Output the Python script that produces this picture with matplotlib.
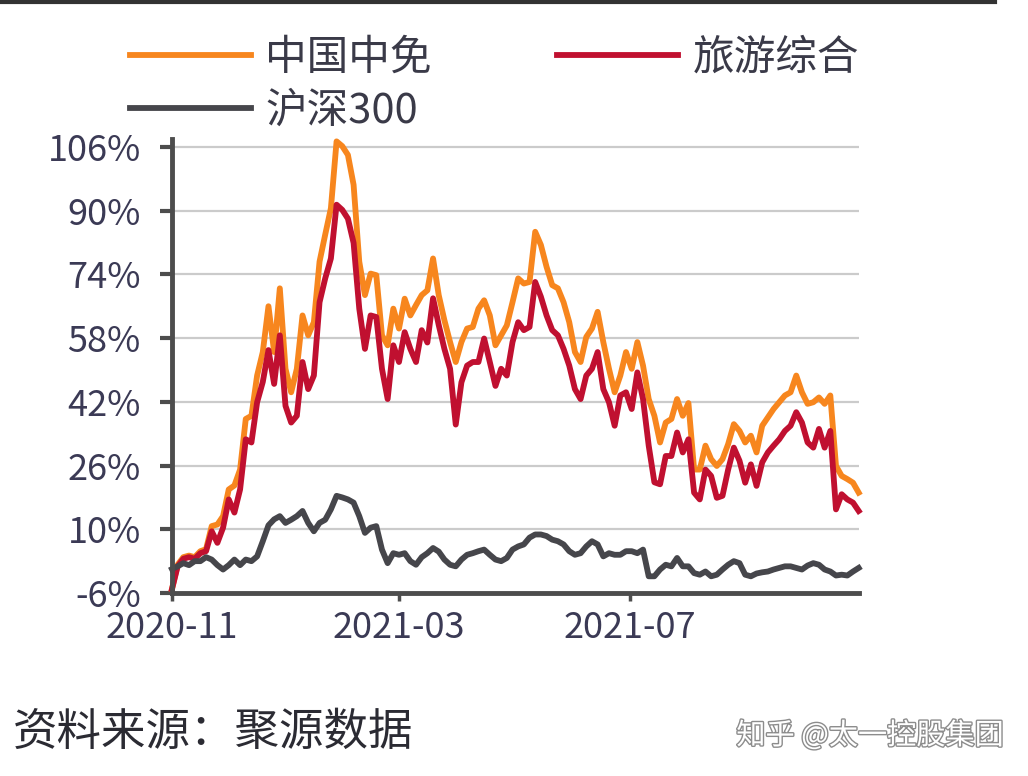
import numpy as np
import pandas as pd
import matplotlib
matplotlib.use("Agg")
import matplotlib.pyplot as plt
import matplotlib.dates as mdates
from matplotlib.lines import Line2D
from matplotlib import patheffects

plt.rcParams['font.family'] = ['Noto Sans CJK SC', 'DejaVu Sans']

# 累计涨跌幅（%），每3天取一个点，读自原图
zhongmian = [-5, 1.1, 3, 3.4, 3, 4.5, 5, 10.8, 11.2, 13.3,
             20, 21, 25, 37.7, 38.5, 48.6, 54.5, 66, 54.5, 70.5,
             50.3, 44.4, 50.3, 63.7, 58.7, 62, 77.2, 84, 90.6, 107.4,
             106.2, 104, 96.5, 77.2, 68.8, 74.2, 73.8, 58.7, 56.2, 65.4,
             60.4, 67.9, 63.7, 66.3, 68.8, 70, 78, 68.8, 62.5, 57,
             52, 57, 60.4, 60.8, 65.4, 67.5, 63.7, 56.2, 58.7, 61.2,
             67, 73, 71.7, 72.1, 84.7, 81.4, 75.9, 71.3, 70.5, 67,
             62, 54.5, 52, 58.3, 60.4, 64.6, 57, 50.3, 44.4, 48.6,
             54.5, 50.3, 57, 51.1, 42.7, 38.5, 31.8, 36.8, 37.7, 42.7,
             38.5, 41.7, 25, 25, 31, 27.6, 25.9, 27.6, 31.4, 36.4,
             34.7, 31.8, 33.5, 29.3, 36, 38.1, 40.2, 41.9, 43.6, 44.4,
             48.6, 44.4, 41.5, 41.9, 43.1, 41.5, 43.6, 25.9, 23.4, 22.6,
             21.7, 19.2]

lvyou = [-5, 0.7, 2.6, 3, 2.6, 4, 4.5, 9.5, 6.6, 10.4,
         17.5, 14.2, 20, 32.6, 31.8, 41.9, 47, 55, 46.5, 58.7,
         41, 36.8, 38.5, 52, 45.2, 48.6, 67, 73, 78, 91.5,
         90.2, 88, 81.9, 65.4, 55.3, 63.7, 63.3, 50.3, 42.7, 56.2,
         52, 59.5, 55.3, 52, 60, 56.9, 68, 61.3, 55.3, 50.3,
         36.3, 46.9, 51.1, 52, 52, 57.9, 52, 46, 50.3, 48.6,
         57, 62, 60, 60.8, 72.1, 68.4, 63.7, 60, 58.7, 55.3,
         51.1, 45.2, 42.7, 48.6, 50.3, 54.5, 45.2, 41.9, 36, 43.6,
         44.4, 40.2, 49.4, 42.7, 31, 21.8, 21.3, 28.4, 28.4, 34.3,
         29.3, 32.6, 19.2, 17.5, 25, 23.4, 17.9, 18.4, 25, 30.5,
         27.2, 21.7, 26.3, 20.9, 26.8, 29.3, 31, 32.6, 34.7, 36,
         39.4, 36.8, 31.8, 30.5, 35.2, 30.5, 34.7, 15, 18.8, 17.5,
         16.7, 14.6]

hs300 = [0, 0.7, 1.5, 1, 2, 2, 3, 2.4, 1, -0.1,
         1, 2.4, 1, 2.4, 2, 3.2, 7, 11, 12.5, 13.3,
         11.6, 12.4, 13.3, 14.6, 11.6, 9.5, 11.6, 12.4, 15, 18.4,
         18, 17.5, 16.7, 13.3, 9.1, 10.4, 10.8, 4.9, 1.5, 4,
         3.6, 4, 2, 1.1, 3, 4, 5.3, 4.4, 2.4, 1.1,
         0.7, 2.4, 3.6, 4, 4.5, 4.9, 3.6, 2.4, 2, 2.8,
         4.9, 5.7, 6.2, 7.9, 8.7, 8.7, 8.3, 7.4, 7, 6.2,
         4.5, 3.6, 4, 5.7, 7, 6.2, 3.2, 4, 3.6, 3.6,
         4.5, 4.5, 4, 4.9, -1.8, -1.8, -0.1, 1.1, 0.7, 2.8,
         0.7, 0.7, -1, -1.4, -0.6, -1.8, -1.4, -0.1, 1.1, 2,
         1.5, -1.4, -1.8, -1.1, -0.8, -0.6, -0.1, 0.3, 0.7, 0.7,
         0.3, -0.1, 0.9, 1.5, 1.1, -0.1, -0.6, -1.6, -1.4, -1.6,
         -0.6, 0.3]

dates = pd.date_range("2020-11-01", periods=len(zhongmian), freq="3D")

yticks = [-6, 10, 26, 42, 58, 74, 90, 106]
xticks = ["2020-11-01", "2021-03-01", "2021-07-01"]

c_orange = '#f7861e'
c_red = '#c01030'
c_gray = '#46464b'
c_text = '#3b3a55'

fig = plt.figure(figsize=(10.28, 7.76), dpi=100)
ax = fig.add_axes([0.1673, 0.2358, 0.668, 0.5851])

l1, = ax.plot(dates, zhongmian, color=c_orange, lw=4.2, label='中国中免', clip_on=False)
l2, = ax.plot(dates, lvyou, color=c_red, lw=4.2, label='旅游综合', clip_on=False)
l3, = ax.plot(dates, hs300, color=c_gray, lw=4.2, label='沪深300', clip_on=False)

ax.set_ylim(-6, 108)
ax.set_xlim(dates[0], dates[-1])
ax.set_yticks(yticks)
ax.set_yticklabels([f'{v}%' for v in yticks])
ax.set_xticks(pd.to_datetime(xticks))
ax.xaxis.set_major_formatter(mdates.DateFormatter('%Y-%m'))

ax.yaxis.grid(True, color='#cbcbcb', lw=1.6)
ax.set_axisbelow(True)

for s in ['top', 'right']:
    ax.spines[s].set_visible(False)
for s in ['left', 'bottom']:
    ax.spines[s].set_color('#4d4d4d')
    ax.spines[s].set_linewidth(3.5)

ax.tick_params(axis='y', length=8.5, width=3, color='#4d4d4d', pad=14,
               labelsize=26, labelcolor=c_text)
ax.tick_params(axis='x', length=6, width=2.5, color='#4d4d4d', pad=6,
               labelsize=26, labelcolor=c_text)

fig.legend([l1, l3, l2], ['中国中免', '沪深300', '旅游综合'],
           loc='upper left', bbox_to_anchor=(0.1265, 0.952), ncol=2,
           frameon=False, fontsize=30, handlelength=2.9, handletextpad=0.35,
           columnspacing=3.0, labelspacing=0.3, borderpad=0, borderaxespad=0,
           labelcolor='#3a3a48')

fig.add_artist(Line2D([0, 0.968], [0.997, 0.997], color='#333333', lw=3,
                      transform=fig.transFigure))

fig.text(0.012, 0.0567, '资料来源：聚源数据', fontsize=32, color='#2b2b33',
         va='center', ha='left')
fig.text(0.976, 0.0515, '知乎 @太一控股集团', fontsize=21, color='white',
         va='center', ha='right',
         path_effects=[patheffects.withStroke(linewidth=2, foreground='#8c8c8c')])

plt.savefig('out.png', dpi=100)
